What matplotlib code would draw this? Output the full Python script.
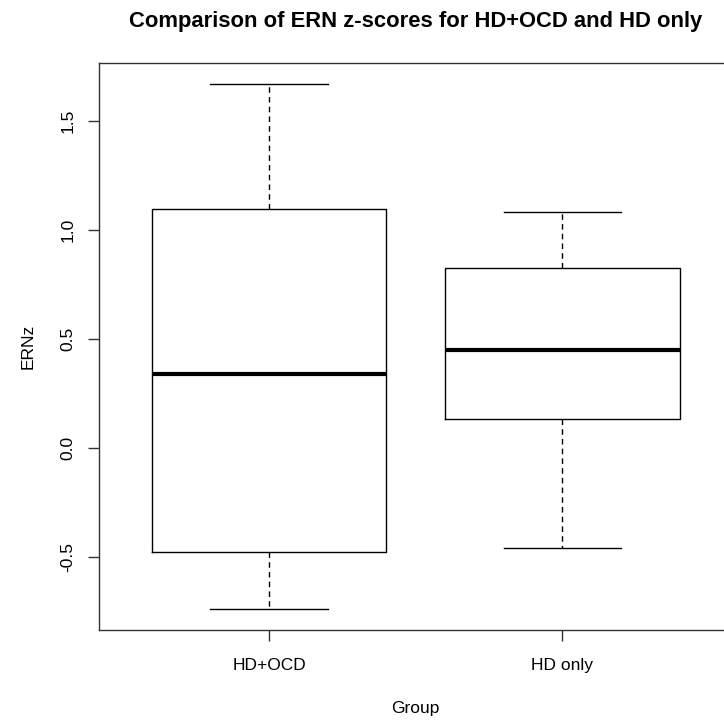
import matplotlib
matplotlib.use("Agg")
import matplotlib.pyplot as plt

plt.rcParams['font.family'] = ['Liberation Sans', 'DejaVu Sans']

groups = ["HD+OCD", "HD only"]
whislo = [-0.736, -0.458]
q1 = [-0.474, 0.133]
med = [0.339, 0.451]
q3 = [1.096, 0.823]
whishi = [1.669, 1.082]

stats = []
for i in range(len(groups)):
    stats.append(dict(label=groups[i], whislo=whislo[i], q1=q1[i], med=med[i],
                      q3=q3[i], whishi=whishi[i], fliers=[]))

fig = plt.figure(figsize=(7.24, 7.2), dpi=100)
ax = fig.add_axes([99/724, 90/720, 633.5/724, 567.3/720])

ax.bxp(stats, positions=[1, 2], widths=0.8, showfliers=False,
       boxprops=dict(color="black", linewidth=1),
       whiskerprops=dict(color="black", linewidth=1, linestyle=(0, (4, 3))),
       capprops=dict(color="black", linewidth=1),
       medianprops=dict(color="black", linewidth=3),
       capwidths=0.4)

ax.set_xlim(0.42, 2.58)
lo = min(whislo); hi = max(whishi)
pad = (hi - lo) * 0.04
ax.set_ylim(lo - pad, hi + pad)
ax.set_yticks([-0.5, 0.0, 0.5, 1.0, 1.5])
ax.set_yticklabels(["-0.5", "0.0", "0.5", "1.0", "1.5"], rotation=90, va="center")
ax.tick_params(axis="both", direction="out", length=8, width=1, labelsize=12.5, color="#333333")
ax.tick_params(axis="y", pad=9)
ax.tick_params(axis="x", pad=12)
for s in ax.spines.values():
    s.set_linewidth(1)
    s.set_color("#333333")

ax.set_title("Comparison of ERN z-scores for HD+OCD and HD only",
             fontsize=15.8, fontweight="bold", pad=26)
ax.set_xlabel("Group", fontsize=12.5, labelpad=20)
ax.set_ylabel("ERNz", fontsize=12.5, labelpad=18)

fig.savefig("out.png", dpi=100)
